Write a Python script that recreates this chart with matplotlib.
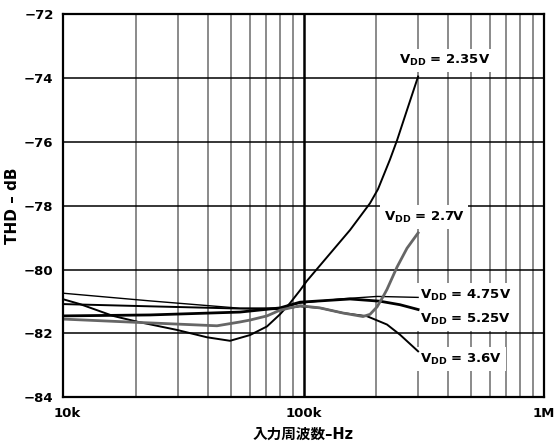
import matplotlib
matplotlib.use("Agg")
import matplotlib.pyplot as plt
import matplotlib.transforms as mtransforms
import numpy as np

# THD vs input frequency, one curve per supply voltage (frequency in kHz, THD in dB)
f_235 = [10, 11.73, 16.1, 20.26, 29.74, 39.65, 49.43, 59.88, 70.47, 79.83, 87.87,
         96.7, 103.4, 128.9, 156.2, 189.2, 204.2, 229.1, 245.1, 269.7, 300]
thd_235 = [-80.93, -81.08, -81.45, -81.63, -81.89, -82.12, -82.23, -82.05, -81.78,
           -81.40, -81.05, -80.65, -80.35, -79.50, -78.76, -77.92, -77.48, -76.55,
           -75.95, -75.00, -73.95]

f_27 = [10, 19.89, 43.63, 54.4, 59.88, 70.47, 79.83, 96.7, 117.1, 146.0, 176.9,
        189.2, 202.3, 214.3, 222.6, 245.1, 269.7, 300]
thd_27 = [-81.55, -81.65, -81.76, -81.64, -81.58, -81.45, -81.27, -81.13, -81.20,
          -81.36, -81.47, -81.40, -81.17, -80.85, -80.62, -79.92, -79.33, -78.85]

f_475 = [10, 22.96, 54.4, 79.83, 96.7, 141.9, 202.3, 300]
thd_475 = [-80.74, -80.98, -81.21, -81.20, -81.05, -80.92, -80.84, -80.87]

f_525 = [10, 22.96, 54.4, 79.83, 96.7, 156.2, 208.3, 252.3, 300]
thd_525 = [-81.45, -81.42, -81.33, -81.20, -81.02, -80.92, -80.99, -81.10, -81.25]

f_36 = [10, 22.96, 54.4, 79.83, 96.7, 117.1, 146.0, 183.8, 222.6, 252.3, 300]
thd_36 = [-81.08, -81.15, -81.22, -81.24, -81.15, -81.20, -81.36, -81.46, -81.72,
          -82.04, -82.56]

x_ticks = [1e4, 1e5, 1e6]
x_tick_labels = ["10k", "100k", "1M"]
y_ticks = [-84, -82, -80, -78, -76, -74, -72]

curve_labels = [r"V$_{\mathbf{DD}}$ = 2.35V", r"V$_{\mathbf{DD}}$ = 2.7V",
                r"V$_{\mathbf{DD}}$ = 4.75V", r"V$_{\mathbf{DD}}$ = 5.25V",
                r"V$_{\mathbf{DD}}$ = 3.6V"]

plt.rcParams["font.family"] = ["DejaVu Sans", "Noto Sans CJK JP"]
plt.rcParams["font.weight"] = "bold"
plt.rcParams["mathtext.default"] = "bf"

fig = plt.figure(figsize=(5.54, 4.48), dpi=100)
ax = fig.add_axes([0.1143, 0.1132, 0.9814 - 0.1143, 0.9681 - 0.1132])
ax.set_xscale("log")
ax.set_xlim(1e4, 1e6)
ax.set_ylim(-84, -72)

# grid: decades and every 2 dB in black, minor frequencies in grey
ax.axvline(1e5, color="black", lw=1.8, zorder=1)
for base in [1e4, 1e5]:
    for m in range(2, 10):
        ax.axvline(base * m, color="#777777", lw=1.2, zorder=1)
for yv in y_ticks[1:-1]:
    ax.axhline(yv, color="black", lw=1.1, zorder=1)

ax.set_xticks(x_ticks)
ax.set_xticklabels(x_tick_labels)
ax.xaxis.set_minor_locator(matplotlib.ticker.NullLocator())
ax.set_yticks(y_ticks)
ax.set_yticklabels([f"\u2212{abs(v)}" for v in y_ticks])
ax.tick_params(length=0, labelsize=9.5, pad=7)
for lab in ax.get_xticklabels():
    lab.set_fontweight("bold")
for lab in ax.get_yticklabels():
    lab.set_fontweight("bold")
# nudge the first frequency label inward
first = ax.get_xticklabels()[0]
first.set_transform(first.get_transform() +
                    mtransforms.ScaledTranslation(4 / 100, 0, fig.dpi_scale_trans))

for s in ax.spines.values():
    s.set_linewidth(1.6)
    s.set_zorder(5)

def khz(v):
    return np.array(v) * 1e3

ax.plot(khz(f_475), thd_475, color="black", lw=1.0, zorder=3)
ax.plot(khz(f_36), thd_36, color="black", lw=1.4, zorder=3)
ax.plot(khz(f_525), thd_525, color="black", lw=2.0, zorder=3)
ax.plot(khz(f_235), thd_235, color="black", lw=1.4, zorder=3)
ax.plot(khz(f_27), thd_27, color="#666666", lw=2.0, zorder=4)

box = dict(facecolor="white", edgecolor="none", pad=3)
label_pos = [(249e3, -73.45), (216e3, -78.35), (305e3, -80.8), (305e3, -81.55), (305e3, -82.8)]
for (fx, yv), txt in zip(label_pos, curve_labels):
    ax.text(fx, yv, txt, fontsize=9.5, fontweight="bold", ha="left", va="center",
            bbox=box, zorder=2)

ax.set_ylabel("THD \u2013 dB", fontsize=11, fontweight="bold", labelpad=3)
ax.set_xlabel("入力周波数\u2013Hz", fontsize=10.5, fontweight="bold", labelpad=5)

fig.savefig("out.png", dpi=100)
